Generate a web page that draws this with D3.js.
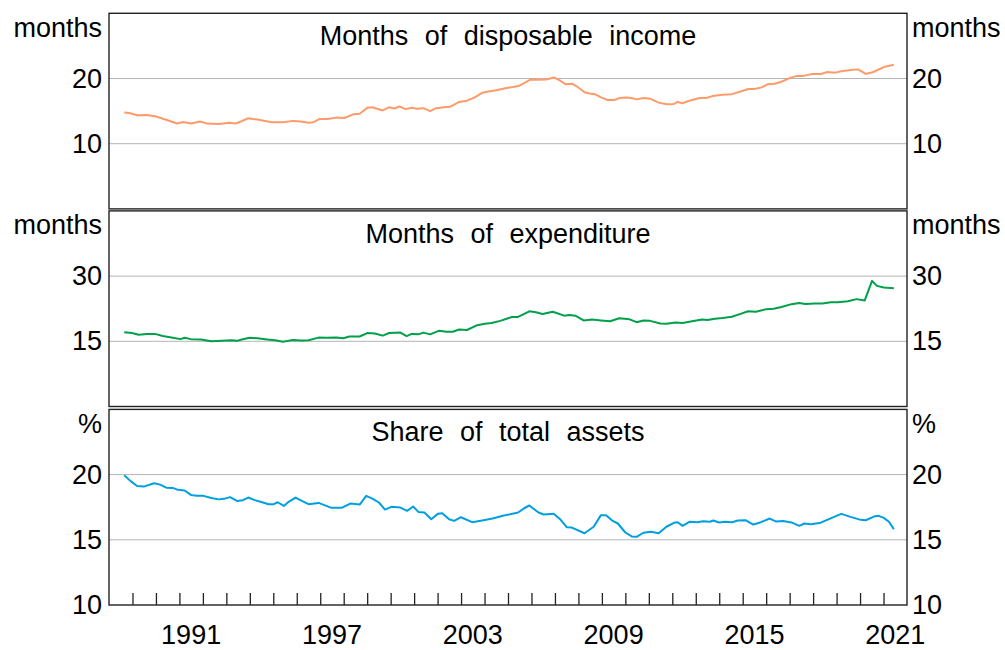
<!DOCTYPE html>
<html><head><meta charset="utf-8">
<script src="https://cdn.jsdelivr.net/npm/d3@7"></script>
<style>
body{margin:0;background:#fff}
text{font-family:"Liberation Sans",Arial,Helvetica,sans-serif;fill:#000}
</style>
</head><body>
<svg id="chart" width="1005" height="650"></svg>
<script>
// ---- Data (decimal year, value) ----
const incomeData = [
[1988.65,14.8],[1988.87,14.7],[1989.20,14.36],[1989.63,14.41],[1989.96,14.2],[1990.40,13.7],[1990.90,13.1],
[1991.16,13.33],[1991.49,13.1],[1991.88,13.4],[1992.18,13.08],[1992.68,13.03],[1993.12,13.2],[1993.40,13.1],
[1993.62,13.4],[1993.93,13.9],[1994.32,13.7],[1994.93,13.3],[1995.41,13.3],[1995.84,13.5],[1996.17,13.4],
[1996.50,13.2],[1996.71,13.3],[1996.98,13.8],[1997.32,13.8],[1997.69,14.0],[1998.02,13.95],[1998.41,14.5],
[1998.68,14.6],[1999.00,15.5],[1999.22,15.6],[1999.66,15.1],[1999.94,15.6],[2000.16,15.4],[2000.37,15.7],
[2000.64,15.3],[2000.90,15.5],[2001.12,15.35],[2001.40,15.45],[2001.68,15.0],[2001.94,15.45],[2002.27,15.6],
[2002.53,15.65],[2002.92,16.4],[2003.25,16.6],[2003.58,17.1],[2003.90,17.8],[2004.23,18.05],[2004.51,18.2],
[2004.88,18.5],[2005.21,18.7],[2005.49,18.9],[2005.69,19.3],[2005.97,19.85],[2006.30,19.8],[2006.63,19.85],
[2006.95,20.15],[2007.17,19.8],[2007.46,19.1],[2007.72,19.2],[2007.93,18.8],[2008.26,17.9],[2008.48,17.7],
[2008.70,17.6],[2008.96,17.1],[2009.24,16.7],[2009.53,16.7],[2009.74,17.0],[2010.05,17.1],[2010.27,17.0],
[2010.48,16.8],[2010.77,17.0],[2011.05,16.9],[2011.42,16.3],[2011.75,16.05],[2012.07,16.1],[2012.23,16.4],
[2012.44,16.2],[2012.73,16.6],[2013.16,17.0],[2013.45,17.0],[2013.71,17.3],[2014.14,17.5],[2014.54,17.6],
[2014.91,18.0],[2015.23,18.4],[2015.49,18.4],[2015.78,18.6],[2016.06,19.1],[2016.37,19.2],[2016.65,19.5],
[2017.02,20.1],[2017.30,20.4],[2017.59,20.4],[2017.96,20.7],[2018.33,20.7],[2018.61,21.0],[2018.94,20.9],
[2019.20,21.1],[2019.59,21.3],[2019.92,21.4],[2020.24,20.7],[2020.57,21.0],[2021.01,21.75],[2021.44,22.1]
];
const expenditureData = [
[1988.65,17.06],[1988.98,16.9],[1989.26,16.5],[1989.63,16.7],[1989.96,16.7],[1990.29,16.2],[1990.72,15.8],
[1991.05,15.5],[1991.22,15.8],[1991.49,15.5],[1991.92,15.4],[1992.36,15.0],[1992.79,15.1],[1993.23,15.25],
[1993.45,15.1],[1993.66,15.4],[1993.99,15.8],[1994.32,15.7],[1994.75,15.4],[1995.08,15.25],[1995.41,14.9],
[1995.84,15.3],[1996.17,15.2],[1996.50,15.25],[1996.93,15.85],[1997.26,15.8],[1997.69,15.9],[1997.98,15.7],
[1998.24,16.1],[1998.68,16.1],[1999.00,16.9],[1999.33,16.8],[1999.66,16.3],[1999.94,16.9],[2000.42,17.0],
[2000.68,16.2],[2000.90,16.7],[2001.18,16.6],[2001.40,17.0],[2001.68,16.6],[2002.05,17.4],[2002.38,17.2],
[2002.64,17.2],[2002.92,17.7],[2003.25,17.6],[2003.69,18.7],[2004.01,19.05],[2004.30,19.2],[2004.67,19.7],
[2005.17,20.6],[2005.43,20.6],[2005.91,21.9],[2006.19,21.7],[2006.47,21.3],[2006.91,21.8],[2007.39,20.9],
[2007.61,21.05],[2007.87,20.9],[2008.22,19.8],[2008.59,20.0],[2008.96,19.8],[2009.35,19.6],[2009.74,20.3],
[2010.18,20.05],[2010.48,19.4],[2010.77,19.8],[2011.05,19.7],[2011.49,19.1],[2011.75,19.05],[2012.14,19.3],
[2012.44,19.2],[2012.84,19.6],[2013.27,20.0],[2013.49,19.9],[2013.82,20.2],[2014.14,20.35],[2014.54,20.65],
[2014.91,21.3],[2015.23,21.9],[2015.56,21.8],[2016.00,22.4],[2016.32,22.5],[2016.65,22.9],[2017.08,23.55],
[2017.41,23.8],[2017.67,23.6],[2018.07,23.7],[2018.39,23.7],[2018.76,24.0],[2019.05,24.0],[2019.48,24.2],
[2019.85,24.7],[2020.20,24.4],[2020.51,28.9],[2020.72,27.75],[2021.01,27.4],[2021.44,27.2]
];
const assetsData = [
[1988.65,19.95],[1988.92,19.5],[1989.20,19.13],[1989.48,19.08],[1989.92,19.34],[1990.18,19.23],[1990.44,19.0],
[1990.72,18.98],[1990.94,18.83],[1991.22,18.78],[1991.49,18.44],[1991.75,18.37],[1992.03,18.37],[1992.36,18.2],
[1992.68,18.1],[1992.90,18.14],[1993.16,18.27],[1993.45,17.98],[1993.71,18.04],[1993.93,18.24],[1994.21,18.04],
[1994.49,17.9],[1994.80,17.73],[1995.02,17.73],[1995.19,17.88],[1995.45,17.6],[1995.67,17.93],[1995.95,18.24],
[1996.24,17.96],[1996.50,17.73],[1996.93,17.83],[1997.15,17.68],[1997.48,17.45],[1997.91,17.45],[1998.28,17.78],
[1998.68,17.7],[1998.96,18.37],[1999.22,18.16],[1999.50,17.86],[1999.76,17.32],[2000.03,17.53],[2000.42,17.47],
[2000.70,17.22],[2000.96,17.55],[2001.18,17.14],[2001.44,17.09],[2001.73,16.58],[2002.01,16.99],[2002.20,17.04],
[2002.49,16.58],[2002.71,16.45],[2002.99,16.73],[2003.47,16.35],[2003.90,16.48],[2004.34,16.63],[2004.78,16.84],
[2005.43,17.09],[2005.69,17.42],[2005.91,17.63],[2006.30,17.09],[2006.52,16.94],[2006.95,16.99],[2007.22,16.58],
[2007.50,15.97],[2007.72,15.94],[2008.26,15.5],[2008.65,16.0],[2008.96,16.89],[2009.18,16.89],[2009.46,16.45],
[2009.68,16.25],[2010.00,15.56],[2010.27,15.26],[2010.48,15.23],[2010.77,15.54],[2011.09,15.61],[2011.42,15.5],
[2011.75,16.0],[2012.07,16.3],[2012.23,16.35],[2012.44,16.07],[2012.73,16.38],[2013.05,16.35],[2013.32,16.43],
[2013.60,16.38],[2013.75,16.48],[2013.99,16.33],[2014.25,16.38],[2014.54,16.35],[2014.80,16.48],[2015.12,16.5],
[2015.45,16.17],[2015.78,16.35],[2016.15,16.63],[2016.43,16.4],[2016.72,16.45],[2017.08,16.33],[2017.41,16.07],
[2017.63,16.25],[2017.89,16.2],[2018.28,16.28],[2018.72,16.63],[2019.20,16.99],[2019.59,16.76],[2020.03,16.53],
[2020.24,16.5],[2020.64,16.81],[2020.79,16.84],[2021.01,16.68],[2021.23,16.38],[2021.44,15.82]
];

const panelTitles = ["Months of disposable income", "Months of expenditure", "Share of total assets"];
const panelUnits = ["months", "months", "%"];
const panelDomains = [[0, 30], [0, 45], [10, 25]];
const panelTicks = [[10, 20], [15, 30], [10, 15, 20]];
const panelGrid = [[10, 20], [15, 30], [15, 20]];
const panelColors = ["#ff9b6a", "#00a04b", "#00a0e0"];
const panelData = [incomeData, expenditureData, assetsData];
const xTickYears = d3.range(1989, 2022);
const xLabelYears = [1991, 1997, 2003, 2009, 2015, 2021];

// ---- Layout ----
const svg = d3.select("#chart");
const left = 109, right = 907;
const tops = [13.3, 210.9, 409.4];
const ph = 195.6;
const fs = 27;

const x = d3.scaleLinear().domain([1988, 2022]).range([left, right]);

panelData.forEach((data, i) => {
  const top = tops[i], bottom = top + ph;
  const y = d3.scaleLinear().domain(panelDomains[i]).range([bottom, top]);
  const g = svg.append("g");

  // gridlines
  g.selectAll("line.grid").data(panelGrid[i]).join("line")
    .attr("x1", left).attr("x2", right)
    .attr("y1", d => y(d)).attr("y2", d => y(d))
    .attr("stroke", "#b4b4b4").attr("stroke-width", 1);

  // line
  const line = d3.line().x(d => x(d[0])).y(d => y(d[1]));
  g.append("path").datum(data).attr("d", line)
    .attr("fill", "none").attr("stroke", panelColors[i])
    .attr("stroke-width", 2).attr("stroke-linejoin", "round");

  // frame
  g.append("rect").attr("x", left).attr("y", top)
    .attr("width", right - left).attr("height", ph)
    .attr("fill", "none").attr("stroke", "#222").attr("stroke-width", 1.4);

  // left / right axes labels
  const la = d3.axisLeft(y).tickValues(panelTicks[i]).tickSize(0).tickPadding(7).tickFormat(d3.format("d"));
  const ra = d3.axisRight(y).tickValues(panelTicks[i]).tickSize(0).tickPadding(5).tickFormat(d3.format("d"));
  const lg = g.append("g").attr("transform", `translate(${left},0)`).call(la);
  const rg = g.append("g").attr("transform", `translate(${right},0)`).call(ra);
  [lg, rg].forEach(a => {
    a.select(".domain").remove();
    a.selectAll("text").attr("font-size", fs).attr("fill", "#000")
      .attr("font-family", '"Liberation Sans", Arial, sans-serif');
  });

  // units
  g.append("text").attr("x", left - 7).attr("y", top + 23.5)
    .attr("text-anchor", "end").attr("font-size", fs).text(panelUnits[i]);
  g.append("text").attr("x", right + 5).attr("y", top + 23.5)
    .attr("text-anchor", "start").attr("font-size", fs).text(panelUnits[i]);

  // title
  g.append("text").attr("x", (left + right) / 2).attr("y", top + 32)
    .attr("text-anchor", "middle").attr("font-size", fs)
    .attr("word-spacing", 9).text(panelTitles[i]);

  if (i === 2) {
    const xa = d3.axisTop(x).tickValues(xTickYears).tickSize(12).tickFormat("");
    const xg = g.append("g").attr("transform", `translate(0,${bottom})`).call(xa);
    xg.select(".domain").remove();
    xg.selectAll("line").attr("stroke", "#222").attr("stroke-width", 1.3);
    g.selectAll("text.xl").data(xLabelYears).join("text")
      .attr("class", "xl")
      .attr("x", d => x(d + 0.5)).attr("y", 644)
      .attr("text-anchor", "middle").attr("font-size", fs)
      .text(d => d);
  }
});
</script>
</body></html>
